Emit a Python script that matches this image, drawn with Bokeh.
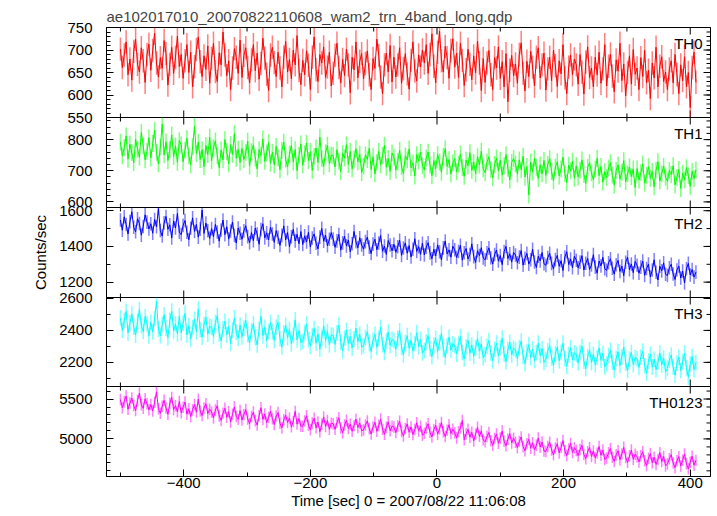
import numpy as np
from bokeh.plotting import figure
from bokeh.models import Range1d, LinearAxis, FixedTicker, Label
from bokeh.layouts import column
from bokeh.embed import file_html
from bokeh.resources import INLINE

TITLE = "ae102017010_20070822110608_wam2_trn_4band_long.qdp"
X_LABEL = "Time [sec] 0 = 2007/08/22 11:06:08"
Y_LABEL = "Counts/sec"
BIN_START = -500
BIN_WIDTH = 3
X_TICKS = [-400, -200, 0, 200, 400]
X_MINOR = [-500, -300, -100, 100, 300]
X_RANGE = (-522, 432)

NAMES = ["TH0", "TH1", "TH2", "TH3", "TH0123"]
COLORS = ["#ff0000", "#00ff00", "#0000ff", "#00ffff", "#ff00ff"]
ERR = [26, 27, 38, 49, 72]
Y_RANGES = [(550, 750), (582, 871), (1114, 1618), (2049, 2606), (4529, 5657)]
Y_TICKS = [[550, 600, 650, 700, 750], [600, 700, 800], [1200, 1400, 1600],
           [2200, 2400, 2600], [5000, 5500]]
Y_MINOR_STEP = [10, 20, 100, 100, 100]

TH0 = [
    702, 661, 689, 718, 645, 680, 633, 697, 724, 668, 651, 705, 676, 628, 690, 713,
    655, 699, 737, 671, 640, 683, 659, 721, 692, 622, 668, 706, 648, 684, 731, 663,
    690, 637, 676, 712, 650, 695, 618, 663, 701, 729, 674, 641, 687, 657, 709, 626,
    681, 715, 652, 630, 694, 667, 740, 689, 643, 676, 612, 660, 703, 684, 648, 722,
    639, 688, 705, 661, 627, 678, 712, 654, 693, 635, 670, 726, 682, 646, 610, 689,
    706, 672, 641, 695, 660, 618, 684, 719, 651, 679, 636, 700, 667, 732, 655, 623,
    677, 645, 698, 666, 612, 684, 729, 656, 630, 690, 671, 707, 639, 662, 695, 620,
    648, 688, 715, 661, 627, 679, 643, 702, 667, 605, 684, 656, 718, 638, 675, 692,
    636, 670, 698, 645, 612, 681, 659, 724, 688, 640, 603, 667, 693, 651, 710, 629,
    684, 640, 667, 705, 626, 659, 692, 647, 613, 677, 718, 653, 631, 689, 662, 700,
    671, 712, 648, 690, 736, 664, 627, 695, 742, 676, 651, 708, 683, 637, 699, 725,
    662, 693, 639, 715, 677, 621, 656, 702, 668, 634, 687, 649, 720, 671, 610, 681,
    628, 671, 699, 645, 612, 683, 660, 707, 637, 674, 618, 692, 585, 655, 688, 643,
    669, 626, 690, 716, 648, 609, 675, 641, 697, 662, 620, 684, 705, 638, 667, 693,
    611, 658, 684, 632, 700, 665, 619, 676, 647, 712, 638, 603, 662, 689, 645, 680,
    667, 624, 690, 651, 602, 673, 707, 639, 660, 618, 684, 645, 695, 626, 658, 712,
    620, 664, 691, 642, 607, 678, 653, 715, 632, 669, 598, 650, 687, 624, 701, 646,
    660, 612, 683, 641, 699, 627, 655, 592, 671, 638, 706, 618, 664, 685, 630, 651,
    612, 658, 676, 627, 690, 645, 603, 667, 632, 685, 618, 650, 572, 661, 695, 628,
]
TH1 = [
    792, 748, 774, 812, 737, 785, 758, 726, 801, 769, 744, 823, 780, 735, 762, 806,
    741, 788, 830, 759, 722, 776, 849, 751, 793, 733, 768, 815, 746, 780, 727, 797,
    783, 729, 766, 804, 748, 719, 777, 842, 755, 792, 736, 768, 713, 781, 752, 808,
    732, 774, 796, 748, 710, 767, 735, 800, 761, 722, 784, 752, 819, 740, 769, 727,
    772, 736, 758, 795, 715, 761, 783, 741, 706, 768, 749, 802, 730, 757, 790, 724,
    760, 719, 778, 741, 703, 765, 792, 737, 712, 753, 781, 728, 768, 700, 749, 786,
    718, 755, 789, 733, 762, 701, 746, 773, 727, 808, 739, 714, 758, 782, 723, 750,
    749, 712, 768, 731, 697, 756, 741, 784, 720, 762, 706, 738, 771, 729, 753, 694,
    715, 751, 736, 773, 704, 745, 690, 727, 762, 718, 749, 781, 711, 740, 698, 757,
    744, 702, 729, 766, 713, 691, 748, 735, 770, 709, 725, 683, 752, 731, 760, 716,
    703, 741, 760, 718, 684, 733, 707, 752, 728, 695, 746, 771, 714, 736, 689, 725,
    739, 697, 721, 754, 710, 682, 734, 716, 758, 701, 727, 690, 745, 719, 763, 706,
    694, 728, 745, 705, 677, 720, 741, 699, 734, 686, 716, 752, 708, 670, 727, 739,
    722, 689, 735, 703, 747, 680, 714, 622, 728, 696, 740, 711, 675, 719, 690, 733,
    685, 720, 739, 697, 668, 712, 729, 683, 706, 744, 691, 662, 718, 700, 731, 676,
    716, 680, 702, 735, 688, 659, 711, 726, 693, 671, 705, 740, 684, 714, 663, 697,
    678, 709, 726, 686, 654, 701, 719, 673, 695, 733, 664, 690, 712, 681, 706, 646,
    707, 670, 694, 722, 660, 685, 713, 676, 698, 648, 702, 729, 667, 691, 715, 679,
    666, 701, 688, 716, 655, 679, 704, 643, 692, 671, 710, 684, 650, 698, 675, 703,
]
TH2 = [
    1548, 1491, 1566, 1523, 1470, 1539, 1594, 1507, 1482, 1555, 1528, 1463, 1512, 1577, 1536, 1498,
    1527, 1474, 1551, 1510, 1612, 1489, 1458, 1532, 1568, 1496, 1521, 1447, 1543, 1503, 1585, 1480,
    1466, 1518, 1545, 1479, 1437, 1502, 1560, 1484, 1523, 1452, 1497, 1604, 1473, 1531, 1488, 1445,
    1500, 1455, 1523, 1481, 1430, 1492, 1548, 1466, 1510, 1441, 1486, 1537, 1462, 1419, 1503, 1474,
    1440, 1487, 1516, 1455, 1421, 1478, 1432, 1503, 1469, 1412, 1495, 1527, 1448, 1476, 1436, 1508,
    1470, 1423, 1489, 1451, 1406, 1462, 1515, 1437, 1478, 1399, 1454, 1496, 1430, 1468, 1415, 1483,
    1411, 1459, 1425, 1480, 1396, 1447, 1470, 1418, 1386, 1452, 1501, 1429, 1463, 1404, 1440, 1477,
    1442, 1395, 1431, 1467, 1379, 1420, 1457, 1403, 1436, 1370, 1415, 1484, 1426, 1392, 1449, 1408,
    1385, 1427, 1452, 1396, 1360, 1413, 1440, 1381, 1419, 1461, 1373, 1402, 1355, 1433, 1408, 1376,
    1412, 1367, 1398, 1435, 1350, 1391, 1420, 1362, 1405, 1341, 1384, 1443, 1372, 1399, 1356, 1418,
    1352, 1396, 1421, 1364, 1331, 1384, 1347, 1409, 1370, 1325, 1392, 1430, 1358, 1381, 1340, 1401,
    1381, 1338, 1372, 1406, 1323, 1365, 1389, 1330, 1354, 1415, 1343, 1310, 1376, 1349, 1393, 1335,
    1325, 1364, 1392, 1337, 1301, 1355, 1380, 1318, 1349, 1298, 1371, 1400, 1332, 1359, 1312, 1366,
    1352, 1309, 1340, 1377, 1295, 1334, 1361, 1301, 1325, 1384, 1313, 1282, 1345, 1319, 1366, 1303,
    1294, 1338, 1362, 1305, 1274, 1326, 1350, 1289, 1320, 1265, 1341, 1370, 1298, 1330, 1281, 1345,
    1323, 1280, 1312, 1348, 1268, 1306, 1333, 1271, 1296, 1354, 1284, 1250, 1318, 1291, 1339, 1275,
    1266, 1309, 1331, 1278, 1245, 1297, 1322, 1260, 1290, 1236, 1311, 1340, 1270, 1302, 1253, 1316,
    1295, 1250, 1284, 1318, 1238, 1276, 1301, 1229, 1268, 1325, 1255, 1212, 1289, 1263, 1308, 1244,
    1237, 1281, 1300, 1246, 1215, 1268, 1290, 1223, 1262, 1196, 1275, 1305, 1240, 1271, 1228, 1256,
]
TH3 = [
    2478, 2401, 2462, 2519, 2385, 2447, 2502, 2420, 2371, 2456, 2531, 2429, 2393, 2487, 2442, 2364,
    2451, 2390, 2473, 2582, 2408, 2367, 2436, 2498, 2414, 2355, 2462, 2521, 2397, 2440, 2378, 2489,
    2385, 2446, 2507, 2371, 2430, 2345, 2418, 2469, 2392, 2533, 2404, 2358, 2437, 2481, 2376, 2425,
    2421, 2362, 2449, 2493, 2380, 2334, 2410, 2457, 2371, 2426, 2318, 2402, 2478, 2389, 2351, 2433,
    2360, 2415, 2462, 2374, 2322, 2398, 2441, 2355, 2309, 2407, 2489, 2366, 2420, 2337, 2392, 2451,
    2392, 2338, 2421, 2451, 2347, 2296, 2383, 2432, 2355, 2405, 2316, 2370, 2466, 2341, 2399, 2324,
    2331, 2387, 2440, 2342, 2301, 2368, 2412, 2320, 2379, 2283, 2353, 2429, 2336, 2394, 2310, 2371,
    2369, 2312, 2385, 2433, 2326, 2271, 2352, 2401, 2318, 2362, 2290, 2347, 2414, 2329, 2375, 2296,
    2304, 2355, 2392, 2318, 2268, 2339, 2376, 2294, 2350, 2420, 2311, 2262, 2335, 2389, 2306, 2344,
    2336, 2282, 2351, 2398, 2295, 2247, 2324, 2367, 2288, 2339, 2270, 2318, 2386, 2299, 2343, 2259,
    2274, 2329, 2367, 2285, 2236, 2310, 2350, 2268, 2322, 2381, 2281, 2232, 2305, 2358, 2277, 2316,
    2306, 2252, 2318, 2361, 2263, 2221, 2296, 2340, 2257, 2309, 2238, 2290, 2349, 2270, 2315, 2229,
    2248, 2301, 2337, 2259, 2209, 2282, 2320, 2240, 2293, 2352, 2251, 2205, 2278, 2326, 2246, 2289,
    2279, 2224, 2290, 2334, 2238, 2192, 2265, 2311, 2230, 2283, 2212, 2261, 2320, 2243, 2287, 2200,
    2219, 2272, 2305, 2228, 2181, 2254, 2296, 2210, 2263, 2320, 2223, 2175, 2248, 2291, 2216, 2259,
    2250, 2196, 2262, 2301, 2207, 2160, 2236, 2278, 2200, 2251, 2185, 2229, 2290, 2213, 2257, 2172,
    2190, 2243, 2276, 2201, 2152, 2225, 2266, 2180, 2234, 2295, 2196, 2149, 2219, 2262, 2187, 2230,
    2222, 2168, 2233, 2270, 2179, 2132, 2208, 2251, 2170, 2219, 2155, 2201, 2258, 2184, 2228, 2141,
    2162, 2214, 2246, 2171, 2120, 2195, 2233, 2149, 2204, 2258, 2166, 2108, 2189, 2236, 2155, 2198,
]
TH0123 = [
    5493, 5391, 5468, 5537, 5372, 5450, 5512, 5418, 5356, 5481, 5575, 5427, 5384, 5502, 5440, 5365,
    5432, 5350, 5461, 5590, 5378, 5321, 5410, 5484, 5387, 5309, 5447, 5520, 5368, 5415, 5339, 5470,
    5327, 5398, 5462, 5310, 5379, 5281, 5366, 5430, 5336, 5498, 5350, 5292, 5387, 5441, 5318, 5373,
    5338, 5262, 5361, 5417, 5286, 5231, 5322, 5384, 5270, 5341, 5213, 5308, 5402, 5281, 5245, 5355,
    5236, 5305, 5368, 5251, 5190, 5282, 5337, 5228, 5173, 5290, 5391, 5244, 5312, 5205, 5270, 5348,
    5254, 5180, 5288, 5330, 5197, 5138, 5240, 5299, 5206, 5262, 5152, 5219, 5345, 5186, 5256, 5160,
    5158, 5226, 5290, 5170, 5115, 5201, 5258, 5140, 5212, 5090, 5183, 5276, 5155, 5230, 5120, 5198,
    5191, 5120, 5206, 5265, 5137, 5078, 5174, 5233, 5129, 5185, 5096, 5166, 5248, 5143, 5198, 5102,
    5112, 5175, 5226, 5128, 5061, 5150, 5209, 5095, 5168, 5250, 5121, 5058, 5146, 5214, 5103, 5160,
    5148, 5080, 5162, 5221, 5093, 5036, 5131, 5188, 5084, 5150, 5055, 5117, 5203, 5098, 5159, 5046,
    5072, 5138, 5189, 5083, 5025, 5115, 5171, 5060, 5126, 5205, 5090, 5031, 5109, 5178, 5068, 5122,
    5078, 5012, 5091, 5137, 5230, 4990, 5066, 5120, 5021, 5083, 4975, 5058, 5145, 5032, 5097, 4988,
    4963, 5031, 5082, 4978, 4920, 5005, 5062, 4945, 5013, 5098, 4971, 4915, 4997, 5066, 4950, 5010,
    4958, 4890, 4967, 5025, 4903, 4852, 4940, 4996, 4884, 4952, 4861, 4921, 5012, 4898, 4960, 4848,
    4843, 4905, 4958, 4862, 4800, 4886, 4940, 4825, 4893, 4980, 4851, 4792, 4874, 4944, 4830, 4889,
    4855, 4790, 4866, 4921, 4806, 4752, 4838, 4893, 4780, 4848, 4760, 4822, 4905, 4795, 4860, 4742,
    4762, 4828, 4879, 4771, 4718, 4801, 4852, 4740, 4810, 4895, 4768, 4706, 4785, 4860, 4745, 4807,
    4776, 4712, 4789, 4840, 4725, 4668, 4758, 4815, 4701, 4770, 4680, 4742, 4828, 4716, 4780, 4662,
    4688, 4751, 4803, 4697, 4640, 4726, 4778, 4660, 4733, 4812, 4690, 4625, 4709, 4784, 4671, 4730,
]
SERIES = [TH0, TH1, TH2, TH3, TH0123]

FONT = "Liberation Sans"
FS = "15px"
FRAME_W = 604
FRAME_H = [90, 90, 90, 89, 90]
MAJ_TICK = 7
MIN_TICK = 4
PAD = 10          # transparent border above/below inner panels (overlapped)

xr = Range1d(*X_RANGE)
x_labels = {t: str(t).replace("-", "\u2212") for t in X_TICKS}


def style_axis(ax):
    ax.axis_line_color = "black"
    ax.major_tick_line_color = "black"
    ax.minor_tick_line_color = "black"
    ax.major_tick_in = MAJ_TICK
    ax.major_tick_out = 0
    ax.minor_tick_in = MIN_TICK
    ax.minor_tick_out = 0
    ax.major_label_text_font = FONT
    ax.major_label_text_font_size = FS
    ax.major_label_text_color = "black"
    ax.axis_label_text_font = FONT
    ax.axis_label_text_font_style = "normal"
    ax.axis_label_text_color = "black"
    ax.axis_label_text_font_size = FS


def edge_ticks(p, xs, ys, length, vertical):
    # tick marks centred on a frame edge; the frame clips the outer half
    p.scatter(x=xs, y=ys, marker="dash", size=2 * length,
              angle=np.pi / 2 if vertical else 0.0,
              line_color="black", line_width=1)


panels = []
n = len(SERIES)
for i in range(n):
    lo, hi = Y_RANGES[i]
    top = i == 0
    bottom = i == n - 1
    kw = {}
    if not top:
        kw["styles"] = {"margin-top": f"-{2 * PAD}px"}
    p = figure(
        x_range=xr, y_range=Range1d(lo, hi),
        frame_width=FRAME_W, frame_height=FRAME_H[i],
        output_backend="svg", toolbar_location=None,
        x_axis_location=None, y_axis_location=None,
        min_border_left=106, min_border_right=7,
        min_border_top=27 if top else PAD,
        min_border_bottom=40 if bottom else PAD,
        background_fill_color="white", border_fill_color=None,
        outline_line_color="black", outline_line_width=1,
        **kw,
    )
    p.xgrid.visible = False
    p.ygrid.visible = False
    if top:
        p.title.text = TITLE
        p.title.text_font = FONT
        p.title.text_font_size = FS
        p.title.text_font_style = "normal"
        p.title.align = "left"
        p.title.standoff = 6
        p.title.offset = 0

    step = Y_MINOR_STEP[i]
    ymin = list(range(int(np.ceil(lo / step) * step), hi + 1, step))
    yt = FixedTicker(ticks=Y_TICKS[i], minor_ticks=ymin)

    left = LinearAxis(ticker=yt)
    style_axis(left)
    left.major_label_standoff = 14
    if i == 2:
        left.axis_label = Y_LABEL
        left.axis_label_standoff = 7
    p.add_layout(left, "left")

    if bottom:
        below = LinearAxis(ticker=FixedTicker(ticks=X_TICKS, minor_ticks=X_MINOR))
        style_axis(below)
        below.major_label_overrides = x_labels
        below.major_label_standoff = 1
        below.axis_label = X_LABEL
        below.axis_label_standoff = 1
        p.add_layout(below, "below")
    else:
        edge_ticks(p, X_TICKS, [lo] * len(X_TICKS), MAJ_TICK, True)
        edge_ticks(p, X_MINOR, [lo] * len(X_MINOR), MIN_TICK, True)
    edge_ticks(p, X_TICKS, [hi] * len(X_TICKS), MAJ_TICK, True)
    edge_ticks(p, X_MINOR, [hi] * len(X_MINOR), MIN_TICK, True)
    edge_ticks(p, [X_RANGE[1]] * len(Y_TICKS[i]), Y_TICKS[i], MAJ_TICK, False)
    edge_ticks(p, [X_RANGE[1]] * len(ymin), ymin, MIN_TICK, False)

    vals = np.array(SERIES[i], dtype=float)
    t = BIN_START + BIN_WIDTH * np.arange(len(vals))
    c = COLORS[i]
    p.segment(x0=t, y0=vals - ERR[i], x1=t, y1=vals + ERR[i],
              line_color=c, line_alpha=0.5, line_width=1.5)
    p.line(t, vals, line_color=c, line_width=1)

    p.add_layout(Label(x=X_RANGE[1], y=hi, x_offset=-8, y_offset=-16,
                       text=NAMES[i], text_align="right",
                       text_baseline="alphabetic", text_font=FONT,
                       text_font_size=FS, text_color="black"))
    panels.append(p)

layout = column(*panels, spacing=0)
open("out.html", "w").write(file_html(layout, INLINE))
